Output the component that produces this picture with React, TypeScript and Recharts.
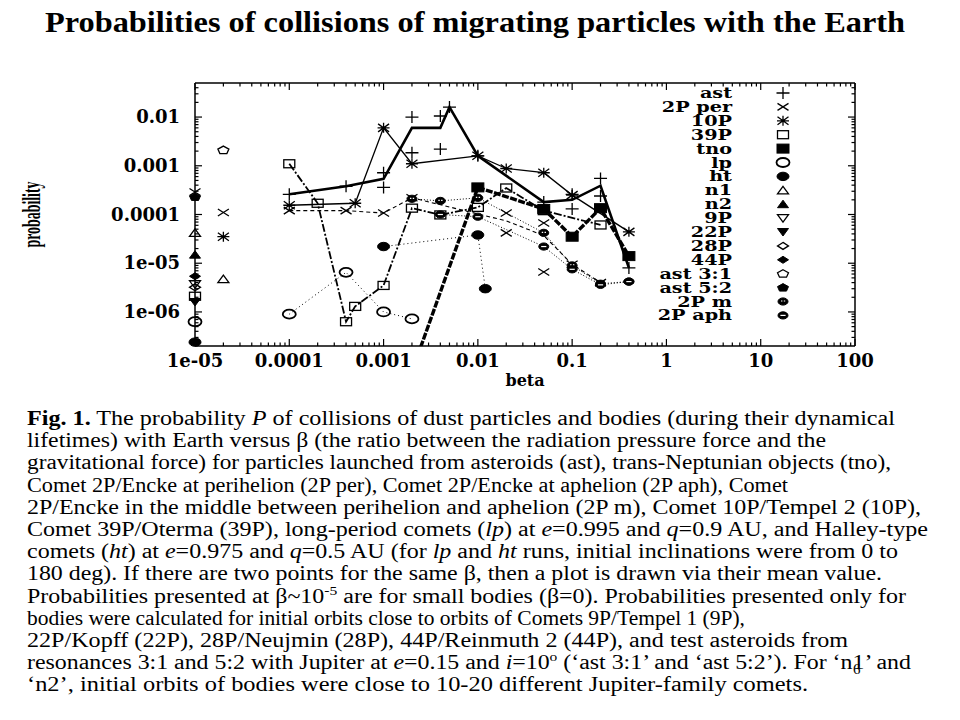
import React from 'react';
import { ScatterChart, Scatter, XAxis, YAxis, Legend } from 'recharts';

type Pt = [number, number];

// axes (both logarithmic)
const BETA_MAJOR = [1e-5, 1e-4, 1e-3, 1e-2, 1e-1, 1, 10, 100];
const BETA_LABELS = ['1e-05', '0.0001', '0.001', '0.01', '0.1', '1', '10', '100'];
const PROB_MAJOR = [1e-6, 1e-5, 1e-4, 1e-3, 1e-2];
const PROB_LABELS = ['1e-06', '1e-05', '0.0001', '0.001', '0.01'];
const BETA_DOMAIN: [number, number] = [1e-5, 100];
const PROB_DOMAIN: [number, number] = [2e-7, 0.05];
const MINOR_STEPS = [2, 3, 4, 5, 6, 7, 8, 9];

// values: [beta, probability]
const astLine: Pt[] = [[1e-4, 2.6e-4], [4e-4, 3.8e-4], [1e-3, 5.4e-4], [2e-3, 6e-3], [4e-3, 6e-3], [5e-3, 1.6e-2], [1e-2, 1.6e-3], [5e-2, 1.8e-4], [0.1, 2.0e-4], [0.2, 3.9e-4], [0.4, 8e-6]];
const astPts: Pt[] = [[1e-4, 2.6e-4], [4e-4, 3.8e-4], [1e-3, 7.2e-4], [1e-3, 3.6e-4], [2e-3, 1.0e-2], [2e-3, 1.85e-3], [4e-3, 1.05e-2], [4e-3, 2.2e-3], [5e-3, 1.6e-2], [1e-2, 1.6e-3], [5e-2, 1.8e-4], [0.1, 1.3e-4], [0.1, 2.6e-4], [0.2, 5.5e-4], [0.2, 2.4e-4], [0.4, 8e-6]];
const perLine: Pt[] = [[1e-4, 1.2e-4], [4e-4, 1.2e-4], [1e-3, 1.07e-4], [2e-3, 2.2e-4], [2e-2, 7.4e-5], [5e-2, 3.7e-5], [0.1, 9.5e-6], [0.2, 4e-6]];
const perPts: Pt[] = [[1e-5, 2.9e-4], [2e-5, 1.1e-4], [1e-4, 1.2e-4], [4e-4, 1.2e-4], [1e-3, 1.07e-4], [2e-3, 2.2e-4], [2e-2, 1.07e-4], [2e-2, 4.2e-5], [5e-2, 6.7e-5], [5e-2, 6.6e-6], [0.1, 9.5e-6], [0.2, 4e-6]];
const tenLine: Pt[] = [[1e-4, 1.55e-4], [5e-4, 1.7e-4], [1e-3, 6e-3], [2e-3, 1.1e-3], [1e-2, 1.6e-3], [2e-2, 8.8e-4], [5e-2, 7.2e-4], [0.1, 2.5e-4], [0.4, 4.4e-5]];
const tenPts: Pt[] = [[2e-5, 3.5e-5], [1e-4, 1.55e-4], [5e-4, 1.7e-4], [1e-3, 6e-3], [2e-3, 1.1e-3], [1e-2, 1.6e-3], [2e-2, 8.8e-4], [5e-2, 7.2e-4], [0.1, 2.5e-4], [0.4, 4.4e-5]];
const p39Line: Pt[] = [[1e-4, 1.1e-3], [2e-4, 1.7e-4], [4e-4, 6.3e-7], [5e-4, 1.3e-6], [1e-3, 3.5e-6], [2e-3, 1.35e-4], [4e-3, 9.8e-5], [1e-2, 1.4e-4], [2e-2, 3.5e-4], [5e-2, 1.2e-4], [0.2, 6.1e-5]];
const p39Pts: Pt[] = [[1e-5, 2.1e-6], [1e-4, 1.1e-3], [2e-4, 1.7e-4], [4e-4, 6.3e-7], [5e-4, 1.3e-6], [1e-3, 3.5e-6], [2e-3, 1.35e-4], [4e-3, 9.8e-5], [1e-2, 1.4e-4], [2e-2, 3.5e-4], [5e-2, 1.2e-4], [0.2, 6.1e-5]];
const tnoLine: Pt[] = [[2e-3, 6e-8], [1e-2, 3.6e-4], [5e-2, 1.3e-4], [0.1, 3.5e-5], [0.2, 1.35e-4], [0.4, 1.4e-5]];
const tnoPts: Pt[] = [[1e-2, 3.6e-4], [5e-2, 1.3e-4], [0.1, 3.5e-5], [0.2, 1.35e-4], [0.4, 1.4e-5]];
const lpLine: Pt[] = [[1e-4, 9e-7], [4e-4, 6.5e-6], [1e-3, 1e-6], [2e-3, 7.2e-7]];
const lpPts: Pt[] = [[1e-5, 6.3e-7], [1e-4, 9e-7], [4e-4, 6.5e-6], [1e-3, 1e-6], [2e-3, 7.2e-7]];
const htLine: Pt[] = [[1e-3, 2.2e-5], [1e-2, 3.8e-5], [1.2e-2, 3e-6]];
const htPts: Pt[] = [[1e-5, 2.4e-7], [1e-3, 2.2e-5], [1e-2, 3.8e-5], [1.2e-2, 3e-6]];
const n1Pts: Pt[] = [[1e-5, 4.2e-5], [2e-5, 4.7e-6]];
const n2Pts: Pt[] = [[1e-5, 1.5e-5]];
const p9Pts: Pt[] = [[1e-5, 3.7e-6]];
const p22Pts: Pt[] = [[1e-5, 1.6e-6]];
const p28Pts: Pt[] = [[1e-5, 3.2e-6]];
const p44Pts: Pt[] = [[1e-5, 5.4e-6]];
const ast31Pts: Pt[] = [[2e-5, 2.1e-3]];
const ast52Pts: Pt[] = [[1e-5, 2.3e-4]];
const mLine: Pt[] = [[2e-3, 2.1e-4], [4e-3, 1.9e-4], [1e-2, 2.2e-4], [5e-2, 4.2e-5], [0.1, 9e-6], [0.2, 3.8e-6], [0.4, 4.2e-6]];
const aphLine: Pt[] = [[4e-3, 1.0e-4], [1e-2, 9e-5], [5e-2, 2.2e-5], [0.1, 7.5e-6], [0.2, 3.6e-6], [0.4, 4.2e-6]];

const SERIES = [
  { name: 'ast', marker: 'plus', pts: astPts, line: astLine, lineStyle: { strokeWidth: 2.6 } },
  { name: '2P per', marker: 'cross', pts: perPts, line: perLine, lineStyle: { strokeWidth: 1.1, strokeDasharray: '4 3' } },
  { name: '10P', marker: 'star', pts: tenPts, line: tenLine, lineStyle: { strokeWidth: 1.3 } },
  { name: '39P', marker: 'square', pts: p39Pts, line: p39Line, lineStyle: { strokeWidth: 1.8, strokeDasharray: '8 2 2 2' } },
  { name: 'tno', marker: 'fsquare', pts: tnoPts, line: tnoLine, lineStyle: { strokeWidth: 3.4, strokeDasharray: '7 1.5' } },
  { name: 'lp', marker: 'circle', pts: lpPts, line: lpLine, lineStyle: { strokeWidth: 1, strokeDasharray: '1 3' } },
  { name: 'ht', marker: 'fcircle', pts: htPts, line: htLine, lineStyle: { strokeWidth: 1, strokeDasharray: '1 3' } },
  { name: 'n1', marker: 'tri', pts: n1Pts },
  { name: 'n2', marker: 'ftri', pts: n2Pts },
  { name: '9P', marker: 'itri', pts: p9Pts },
  { name: '22P', marker: 'fitri', pts: p22Pts },
  { name: '28P', marker: 'diamond', pts: p28Pts },
  { name: '44P', marker: 'fdiamond', pts: p44Pts },
  { name: 'ast 3:1', marker: 'pent', pts: ast31Pts },
  { name: 'ast 5:2', marker: 'fpent', pts: ast52Pts },
  { name: '2P m', marker: 'm2', pts: mLine, line: mLine, lineStyle: { strokeWidth: 1, strokeDasharray: '1 2' } },
  { name: '2P aph', marker: 'aph', pts: aphLine, line: aphLine, lineStyle: { strokeWidth: 1, strokeDasharray: '1 2' } },
];

const CAPTION: [string, string?][][] = [
  [['Fig. 1.', 'b'], [' The probability '], ['P', 'i'], [' of collisions of dust particles and bodies (during their dynamical']],
  [['lifetimes) with Earth versus \u03b2 (the ratio between the radiation pressure force and the']],
  [['gravitational force) for particles launched from asteroids (ast), trans-Neptunian objects (tno),']],
  [['Comet 2P/Encke at perihelion (2P per), Comet 2P/Encke at aphelion (2P aph), Comet']],
  [['2P/Encke in the middle between perihelion and aphelion (2P m), Comet 10P/Tempel 2 (10P),']],
  [['Comet 39P/Oterma (39P), long-period comets ('], ['lp', 'i'], [') at '], ['e', 'i'], ['=0.995 and '], ['q', 'i'], ['=0.9 AU, and Halley-type']],
  [['comets ('], ['ht', 'i'], [') at '], ['e', 'i'], ['=0.975 and '], ['q', 'i'], ['=0.5 AU (for '], ['lp', 'i'], [' and '], ['ht', 'i'], [' runs, initial inclinations were from 0 to']],
  [['180 deg). If there are two points for the same \u03b2, then a plot is drawn via their mean value.']],
  [['Probabilities presented at \u03b2~10'], ['-5', 'sup'], [' are for small bodies (\u03b2=0). Probabilities presented only for']],
  [['bodies were calculated for initial orbits close to orbits of Comets 9P/Tempel 1 (9P),']],
  [['22P/Kopff (22P), 28P/Neujmin (28P), 44P/Reinmuth 2 (44P), and test asteroids from']],
  [['resonances 3:1 and 5:2 with Jupiter at '], ['e', 'i'], ['=0.15 and '], ['i', 'i'], ['=10'], ['o', 'sup'], [' (\u2018ast 3:1\u2019 and \u2018ast 5:2\u2019). For \u2018n1\u2019 and']],
  [['\u2018n2\u2019, initial orbits of bodies were close to 10-20 different Jupiter-family comets.']],
];
// right edge of each caption line in the slide
const CAPTION_RIGHT = [895, 826, 891, 788, 921, 928, 898, 882, 906, 745, 848, 911, 808];
const CAPTION_LEFT = 27;

const minorTicks = (decades: number[], lo: number, hi: number) =>
  decades.flatMap((d) => MINOR_STEPS.map((k) => k * d)).filter((v) => v > lo && v < hi);
const BETA_TICKS = [...BETA_MAJOR, ...minorTicks(BETA_MAJOR, BETA_DOMAIN[0], BETA_DOMAIN[1])].sort((a, b) => a - b);
const PROB_TICKS = [...PROB_MAJOR, ...minorTicks([1e-7, ...PROB_MAJOR], PROB_DOMAIN[0], PROB_DOMAIN[1])].sort((a, b) => a - b);

const toXY = (pts: Pt[]) => pts.map(([x, y]) => ({ x, y }));

const AXIS_FONT = { fontFamily: '"DejaVu Serif", serif', fontWeight: 700, fontSize: 18, fill: '#000' };
const LEGEND_FONT = { fontFamily: '"DejaVu Serif", serif', fontWeight: 700, fontSize: 15, fill: '#000' };
const SERIF = '"Liberation Serif", "Times New Roman", serif';

function Marker({ kind, cx, cy }: { kind: string; cx: number; cy: number }) {
  const s = { stroke: '#000', strokeWidth: 1.3, fill: 'none' };
  const f = { fill: '#000', stroke: '#000', strokeWidth: 1 };
  switch (kind) {
    case 'plus':
      return <path d={`M${cx - 6.5},${cy}h13M${cx},${cy - 6}v12`} {...s} />;
    case 'cross':
      return <path d={`M${cx - 5.5},${cy - 3.5}L${cx + 5.5},${cy + 3.5}M${cx - 5.5},${cy + 3.5}L${cx + 5.5},${cy - 3.5}`} {...s} />;
    case 'star':
      return <path d={`M${cx - 6},${cy}h12M${cx},${cy - 5}v10M${cx - 5.5},${cy - 4}L${cx + 5.5},${cy + 4}M${cx - 5.5},${cy + 4}L${cx + 5.5},${cy - 4}`} {...s} />;
    case 'square':
      return <rect x={cx - 5.5} y={cy - 4} width={11} height={8} {...s} />;
    case 'fsquare':
      return <rect x={cx - 6} y={cy - 4.5} width={12} height={9} {...f} />;
    case 'circle':
      return <ellipse cx={cx} cy={cy} rx={6.5} ry={4.5} stroke="#000" strokeWidth={1.8} fill="none" />;
    case 'fcircle':
      return <ellipse cx={cx} cy={cy} rx={6} ry={4.2} {...f} />;
    case 'tri':
      return <path d={`M${cx},${cy - 4}L${cx + 5.5},${cy + 3.5}L${cx - 5.5},${cy + 3.5}Z`} {...s} />;
    case 'ftri':
      return <path d={`M${cx},${cy - 4}L${cx + 5.5},${cy + 3.5}L${cx - 5.5},${cy + 3.5}Z`} {...f} />;
    case 'itri':
      return <path d={`M${cx},${cy + 4}L${cx + 5.5},${cy - 3.5}L${cx - 5.5},${cy - 3.5}Z`} {...s} />;
    case 'fitri':
      return <path d={`M${cx},${cy + 4}L${cx + 5.5},${cy - 3.5}L${cx - 5.5},${cy - 3.5}Z`} {...f} />;
    case 'diamond':
      return <path d={`M${cx},${cy - 3.5}L${cx + 5.5},${cy}L${cx},${cy + 3.5}L${cx - 5.5},${cy}Z`} {...s} />;
    case 'fdiamond':
      return <path d={`M${cx},${cy - 3.5}L${cx + 5.5},${cy}L${cx},${cy + 3.5}L${cx - 5.5},${cy}Z`} {...f} />;
    case 'pent':
      return <path d={`M${cx},${cy - 4}L${cx + 5.5},${cy - 1}L${cx + 3.5},${cy + 3.5}L${cx - 3.5},${cy + 3.5}L${cx - 5.5},${cy - 1}Z`} {...s} />;
    case 'fpent':
      return <path d={`M${cx},${cy - 4}L${cx + 5.5},${cy - 1}L${cx + 3.5},${cy + 3.5}L${cx - 3.5},${cy + 3.5}L${cx - 5.5},${cy - 1}Z`} {...f} />;
    case 'm2':
      return (
        <g>
          <ellipse cx={cx} cy={cy} rx={5} ry={3.6} {...f} />
          <path d={`M${cx - 2},${cy - 0.5}h1.4M${cx + 0.8},${cy - 0.5}h1.4`} stroke="#fff" strokeWidth={1.2} />
        </g>
      );
    case 'aph':
      return (
        <g>
          <ellipse cx={cx} cy={cy} rx={5} ry={3.6} {...f} />
          <path d={`M${cx - 2.6},${cy}h5.2`} stroke="#fff" strokeWidth={1.2} />
        </g>
      );
    default:
      return <g />;
  }
}

function tickFor(side: 'bottom' | 'top' | 'left' | 'right') {
  return (props: any) => {
    const { x, y, payload } = props;
    const isX = side === 'bottom' || side === 'top';
    const majors = isX ? BETA_MAJOR : PROB_MAJOR;
    const labels = isX ? BETA_LABELS : PROB_LABELS;
    const i = majors.indexOf(payload.value);
    const len = i >= 0 ? 7 : 3.5;
    const dx = side === 'left' ? len : side === 'right' ? -len : 0;
    const dy = side === 'bottom' ? -len : side === 'top' ? len : 0;
    return (
      <g>
        <line x1={x} y1={y} x2={x + dx} y2={y + dy} stroke="#000" strokeWidth={1.2} />
        {i >= 0 && side === 'bottom' && (
          <text x={x} y={y + 21} textAnchor="middle" style={AXIS_FONT}>{labels[i]}</text>
        )}
        {i >= 0 && side === 'left' && (
          <text x={x - 15} y={y + 6} textAnchor="end" style={AXIS_FONT}>{labels[i]}</text>
        )}
      </g>
    );
  };
}

function LegendBox() {
  return (
    <svg width={210} height={250} style={{ overflow: 'visible' }}>
      {SERIES.map((s, i) => {
        const cy = 10 + i * 13.9;
        return (
          <g key={s.name}>
            <text transform={`translate(120 ${cy + 5}) scale(1.28 1)`} textAnchor="end" style={LEGEND_FONT}>
              {s.name}
            </text>
            <Marker kind={s.marker} cx={171} cy={cy} />
          </g>
        );
      })}
    </svg>
  );
}

const axisLine = { stroke: '#000', strokeWidth: 1.5 };

export default function App() {
  return (
    <div style={{ position: 'absolute', left: 0, top: 0, width: 960, height: 720, background: '#fff', overflow: 'hidden' }}>
      <svg width={960} height={720} style={{ position: 'absolute', left: 0, top: 0 }}>
        <text
          x={475}
          y={32}
          textAnchor="middle"
          textLength={860}
          lengthAdjust="spacingAndGlyphs"
          style={{ fontFamily: SERIF, fontWeight: 700, fontSize: 29 }}
        >
          Probabilities of collisions of migrating particles with the Earth
        </text>
        {CAPTION.map((segs, li) => (
          <text
            key={li}
            x={CAPTION_LEFT}
            y={425 + li * 22.2}
            textLength={CAPTION_RIGHT[li] - CAPTION_LEFT}
            lengthAdjust="spacingAndGlyphs"
            style={{ fontFamily: SERIF, fontSize: 20 }}
          >
            {segs.map(([t, st], si) => {
              const prevSup = si > 0 && segs[si - 1][1] === 'sup';
              if (st === 'sup')
                return <tspan key={si} dy={-8} fontSize={13}>{t}</tspan>;
              return (
                <tspan key={si} dy={prevSup ? 8 : undefined} fontWeight={st === 'b' ? 700 : undefined} fontStyle={st === 'i' ? 'italic' : undefined}>
                  {t}
                </tspan>
              );
            })}
          </text>
        ))}
        <text x={853} y={674} style={{ fontFamily: SERIF, fontSize: 15 }}>6</text>
      </svg>
      <div style={{ position: 'absolute', left: 0, top: 0 }}>
        <ScatterChart width={960} height={400} margin={{ top: 73, right: 95, bottom: 14, left: 5 }}>
          <XAxis
            dataKey="x"
            type="number"
            scale="log"
            domain={BETA_DOMAIN}
            allowDataOverflow
            ticks={BETA_TICKS}
            interval={0}
            tickSize={0}
            tickMargin={0}
            tickLine={false}
            tick={tickFor('bottom')}
            axisLine={axisLine}
            height={40}
            label={{
              value: 'beta',
              content: (p: any) => (
                <text x={p.viewBox.x + p.viewBox.width / 2} y={p.viewBox.y + 40} textAnchor="middle" style={{ ...AXIS_FONT, fontSize: 16 }}>
                  beta
                </text>
              ),
            }}
          />
          <XAxis
            xAxisId="top"
            orientation="top"
            dataKey="x"
            type="number"
            scale="log"
            domain={BETA_DOMAIN}
            ticks={BETA_TICKS}
            interval={0}
            tickSize={0}
            tickMargin={0}
            tickLine={false}
            tick={tickFor('top')}
            axisLine={axisLine}
            height={10}
          />
          <YAxis
            dataKey="y"
            type="number"
            scale="log"
            domain={PROB_DOMAIN}
            allowDataOverflow
            ticks={PROB_TICKS}
            interval={0}
            tickSize={0}
            tickMargin={0}
            tickLine={false}
            tick={tickFor('left')}
            axisLine={axisLine}
            width={190}
            label={{
              value: 'probability',
              content: (p: any) => {
                const cx = p.viewBox.x + 35;
                const cy = p.viewBox.y + p.viewBox.height / 2;
                return (
                  <text
                    x={cx}
                    y={cy}
                    transform={`rotate(-90 ${cx} ${cy})`}
                    textAnchor="middle"
                    textLength={66}
                    lengthAdjust="spacingAndGlyphs"
                    style={{ ...AXIS_FONT, fontFamily: SERIF, fontSize: 25 }}
                  >
                    probability
                  </text>
                );
              },
            }}
          />
          <YAxis
            yAxisId="right"
            orientation="right"
            dataKey="y"
            type="number"
            scale="log"
            domain={PROB_DOMAIN}
            ticks={PROB_TICKS}
            interval={0}
            tickSize={0}
            tickMargin={0}
            tickLine={false}
            tick={tickFor('right')}
            axisLine={axisLine}
            width={10}
          />
          {SERIES.filter((s) => s.line).map((s) => (
            <Scatter
              key={`${s.name}-line`}
              data={toXY(s.line as Pt[])}
              line={{ stroke: '#000', fill: 'none', ...s.lineStyle }}
              shape={() => <g />}
              legendType="none"
              isAnimationActive={false}
            />
          ))}
          {SERIES.map((s) => (
            <Scatter
              key={s.name}
              name={s.name}
              xAxisId="top"
              yAxisId="right"
              data={toXY(s.pts)}
              shape={(p: any) => <Marker kind={s.marker} cx={p.cx} cy={p.cy} />}
              isAnimationActive={false}
            />
          ))}
          <Legend
            layout="vertical"
            align="center"
            verticalAlign="middle"
            content={() => <LegendBox />}
            wrapperStyle={{ left: 612, top: 83, width: 210, height: 250 }}
          />
        </ScatterChart>
      </div>
    </div>
  );
}
